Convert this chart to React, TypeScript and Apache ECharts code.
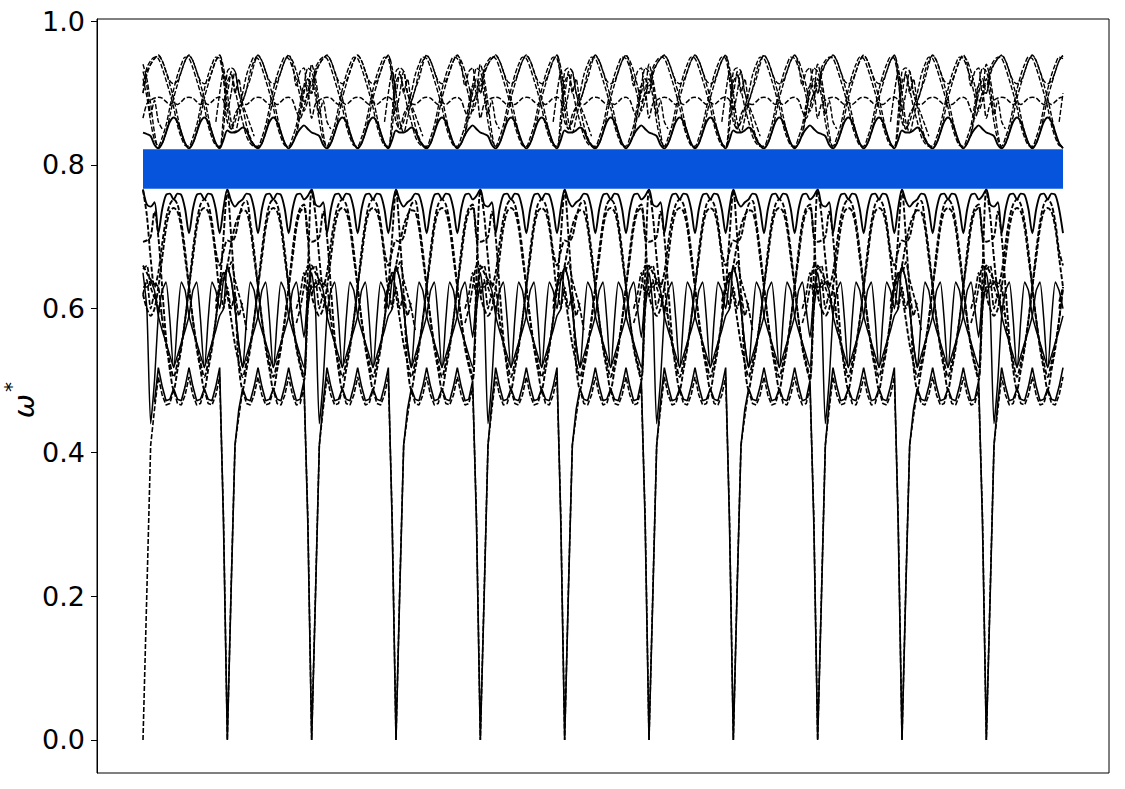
import React, { useEffect, useRef } from "react";
import * as echarts from "echarts";

// The path repeats every two segments, so one A+B pair of each branch is read off
// the picture (22 samples per segment) and laid end to end along the path.
const SEGMENTS = 11;
const SAMPLES_PER_SEGMENT = 22;
const LAST_INDEX = 240;
const Y_TICKS = [0, 0.2, 0.4, 0.6, 0.8, 1.0];
const BAND_LOW = 0.767;
const BAND_HIGH = 0.8217;
const _ = null;

const U1_A = [.845,.843,.84,.828, .823,.83,.845,.86, .866,.86,.845,.83, .823,.83,.845,.86, .866,.86,.845,.83, .823,.835];
const U1_B = [.848,.845,.845,.848, .852,.848,.835,.827, .823,.83,.845,.86, .866,.86,.845,.83, .823,.83,.842,.85, .855,.85];
const U2_A = [.865,.885,.89,.893, .894,.893,.888,.884, .887,.884,.888,.893, .894,.893,.888,.884, .887,.884,.888,.893, .894,.89];
const U2_B = [.86,.85,.87,.88, .885,.884,.888,.893, .894,.893,.888,.884, .887,.884,.888,.893, .894,.89,.875,.865, .88,.90];
const U3_A = [.90,.93,.94,.948, .953,.945,.93,.917, .913,.917,.93,.945, .953,.945,.93,.917, .913,.917,.93,.945, .953,.92];
const U3_B = [.875,.90,.93,.90, .89,.905,.92,.94, .953,.945,.93,.917, .913,.917,.93,.945, .953,.94,.91,.93, .935,.90];
const U4_A = [.90,.925,.94,.948, .952,.945,.93,.912, .893,.868,.845,.83, .824,.83,.845,.868, .893,.912,.93,.945, .952,.935];
const U4_B = [.90,.86,.845,.865, .888,.905,.93,.945, .952,.945,.93,.912, .893,.868,.845,.83, .824,.83,.845,.875, .90,.92];
const U5_A = [.94,.92,.885,.845, .824,.83,.845,.868, .893,.912,.93,.945, .952,.945,.93,.912, .893,.868,.845,.83, .824,.87];
const U5_B = [.93,.935,.93,.90, .88,.855,.838,.828, .824,.83,.845,.868, .893,.912,.93,.945, .952,.945,.93,.91, .888,.90];
const U6_A = [.91,.935,.945,.95, .948,.935,.918,.90, .88,.855,.838,.827, .826,.838,.855,.88, .905,.925,.94,.95, .948,.92];
const U6_B = [.88,.85,.86,.88, .90,.925,.94,.95, .948,.935,.918,.90, .88,.855,.838,.827, .826,.838,.855,.885, .91,.91];
const U7_A = [.92,.895,.86,.835, .826,.838,.855,.88, .905,.925,.94,.95, .948,.935,.918,.90, .88,.855,.838,.827, .826,.85];
const U7_B = [.915,.925,.905,.88, .86,.84,.83,.826, .826,.838,.855,.88, .905,.925,.94,.95, .948,.935,.918,.895, .875,.89];
const C3_A = [.93,.91,.87,.89,.86,.85, _,_,_,_,_,_,_,_,_,_,_,_,_, .86,.90,.93];
const C3_B = [.90,.93,.90,.92,.885,.87,.855,.84, _,_,_,_,_,_,_,_,_,_, .84,.87,.91,.935];
const T_A = [.766,.745,.742,.748, .705,.738,.758,.76, .752,.76,.758,.738, .705,.738,.758,.76, .752,.76,.758,.738, .705,.74];
const T_B = [.766,.75,.742,.748, .752,.76,.758,.738, .705,.738,.758,.76, .752,.76,.758,.738, .705,.738,.758,.76, .752,.757];
const M1_A = [.62,.60,.59,.60, .63,.67,.712,.735, .74,.735,.712,.67, .63,.585,.55,.525, .505,.525,.55,.585, .63,.64];
const M1_B = [.66,.69,.715,.73, .737,.735,.712,.67, .63,.585,.55,.525, .505,.525,.55,.585, .63,.67,.712,.735, .74,.70];
const M2_A = [.66,.65,.64,.635, .63,.585,.55,.525, .505,.525,.55,.585, .63,.67,.712,.735, .74,.735,.712,.67, .63,.65];
const M2_B = [.62,.585,.55,.525, .505,.525,.55,.585, .63,.67,.712,.735, .74,.735,.712,.67, .63,.585,.55,.525, .505,.60];
const M3_A = [.693,.695,.70,.735, .70,.63,.56,.515, .487,.515,.545,.585, .63,.68,.72,.745, .752,.745,.72,.68, .66,.68];
const M3_B = [.695,.693,.70,.725, .745,.75,.72,.68, .63,.585,.545,.515, .487,.515,.545,.585, .63,.68,.72,.74, .745,.70];
const M4_A = [.765,.73,.67,.63, .65,.69,.725,.745, .752,.745,.72,.68, .63,.585,.545,.515, .487,.515,.545,.585, .63,.70];
const M4_B = [.765,.70,.62,.52, .487,.515,.545,.585, .63,.68,.72,.745, .752,.745,.72,.68, .63,.585,.545,.52, .50,.65];
const C1_A = [.655,.66,.63,.615,.60,.59, _,_,_,_,_,_,_,_,_,_,_,_,_, .60,.63,.65];
const C1_B = [.65,.665,.64,.62,.60,.57, _,_,_,_,_,_,_,_,_,_,_,_, .58,.60,.63,.66];
const C4_A = [.62,.64,.60,.62,.60, _,_,_,_,_,_,_,_,_,_,_,_,_,_, .61,.63,.60];
const C4_B = [.63,.60,.62,.59,.61, _,_,_,_,_,_,_,_,_,_,_,_,_, .60,.62,.65,.62];
const S1_A = [.63,.63,.637,.625, .59,.57,.553,.535, .518,.585,.637,.625, .59,.57,.553,.535, .518,.585,.637,.625, .60,.64];
const S1_B = [.657,.64,.60,.55, .518,.585,.637,.625, .59,.57,.553,.535, .518,.585,.637,.625, .59,.57,.553,.535, .518,.60];
const S2_A = [.65,.60,.44,.50, .59,.625,.637,.585, .518,.535,.553,.57, .59,.625,.637,.585, .518,.535,.553,.57, .59,.60];
const S2_B = [.66,.64,.60,.55, .518,.535,.553,.57, .59,.625,.637,.585, .518,.535,.553,.57, .59,.625,.637,.60, .56,.62];
const L1_A = [0,.20,.41,.47, .518,.492,.472,.474, .489,.474,.472,.492, .518,.492,.472,.474, .489,.474,.472,.492, .518,.30];
const L1_B = [0,.21,.41,.46, .489,.474,.472,.492, .518,.492,.472,.474, .489,.474,.472,.492, .518,.492,.472,.474, .50,.30];
const L2_A = [0,.205,.41,.46, .505,.48,.466,.468, .487,.468,.466,.48, .505,.48,.466,.468, .487,.468,.466,.48, .505,.31];
const L2_B = [0,.215,.41,.45, .487,.468,.466,.48, .505,.48,.466,.468, .487,.468,.466,.48, .505,.48,.466,.468, .49,.31];

type Row = [(number | null)[], (number | null)[], number, number, number];
const SOLID: Row[] = [
  [U1_A, U1_B, 0, 0.3, 1.9], [T_A, T_B, 0, 0.3, 1.9], [S1_A, S1_B, 0, 0.2, 1.5], [S2_A, S2_B, 0, 0.2, 1.5], [L1_A, L1_B, 3, 0, 1.6],
];
const DASHED: Row[] = [
  [U2_A, U2_B, 0, 0.3, 1.5], [U3_A, U3_B, 0, 0.3, 1.4], [U4_A, U4_B, 0, 0.3, 1.4], [U5_A, U5_B, 0, 0.3, 1.4], [U6_A, U6_B, 0, 0.3, 1.4], [U7_A, U7_B, 0, 0.3, 1.4],
  [C3_A, C3_B, 0, 0.2, 1.4],
  [M1_A, M1_B, 0, 0.3, 1.9], [M2_A, M2_B, 0, 0.3, 1.9], [M3_A, M3_B, 0, 0.3, 1.9], [M4_A, M4_B, 0, 0.3, 1.9], [C1_A, C1_B, 0, 0.2, 1.7], [C4_A, C4_B, 0, 0.2, 1.7], [L2_A, L2_B, 0, 0, 1.6],
];

function lay(a: (number | null)[], b: (number | null)[], skip: number) {
  const pts: (number | null)[][] = [];
  for (let s = 0; s < SEGMENTS; s++) {
    const seg = s % 2 === 0 ? a : b;
    seg.forEach((v, i) => {
      const x = s * SAMPLES_PER_SEGMENT + i;
      if (x <= LAST_INDEX) pts.push([x, x < skip ? null : v]);
    });
  }
  return pts;
}

function lineSeries([a, b, skip, smooth, width]: Row, dashed: boolean) {
  return {
    type: "line",
    data: lay(a, b, skip),
    showSymbol: false,
    symbol: "none",
    smooth,
    z: 3,
    lineStyle: dashed
      ? { color: "#000", width, type: [5, 2] }
      : { color: "#000", width, type: "solid" },
  };
}

export default function App() {
  const ref = useRef<HTMLDivElement>(null);
  useEffect(() => {
    const chart = echarts.init(ref.current!, null, { renderer: "svg" });
    chart.setOption({
      animation: false,
      backgroundColor: "#fff",
      grid: { left: 97, right: 16, top: 19, bottom: 16, show: true, borderColor: "#000", borderWidth: 1, backgroundColor: "transparent" },
      xAxis: {
        type: "value", min: -12, max: 252,
        axisLine: { show: false }, axisTick: { show: false }, axisLabel: { show: false }, splitLine: { show: false },
      },
      yAxis: {
        type: "value", min: -0.046, max: 1.003,
        axisLine: { show: true, onZero: false, lineStyle: { color: "#000", width: 1 } },
        axisTick: { show: true, length: 6, customValues: Y_TICKS, lineStyle: { color: "#000", width: 1 } },
        axisLabel: {
          show: true, customValues: Y_TICKS, color: "#000", fontSize: 27, margin: 12,
          fontFamily: "DejaVu Sans", formatter: (v: number) => v.toFixed(1),
        },
        splitLine: { show: false },
      },
      graphic: [
        { type: "text", x: 24, y: 406, rotation: Math.PI / 2, style: { text: "ω", fontFamily: "DejaVu Sans", fontStyle: "italic", fontSize: 29, fill: "#000", textAlign: "center", textVerticalAlign: "middle" } },
        { type: "text", x: 11, y: 387, rotation: Math.PI / 2, style: { text: "*", fontFamily: "DejaVu Sans", fontSize: 20, fill: "#000", textAlign: "center", textVerticalAlign: "middle" } },
      ],
      series: [
        ...SOLID.map((r) => lineSeries(r, false)),
        ...DASHED.map((r) => lineSeries(r, true)),
        {
          type: "line", data: [], z: 5,
          markArea: {
            silent: true, z: 5,
            itemStyle: { color: "#0654dc", opacity: 1 },
            data: [[{ xAxis: 0, yAxis: BAND_LOW }, { xAxis: LAST_INDEX, yAxis: BAND_HIGH }]],
          },
        },
      ],
    });
    return () => chart.dispose();
  }, []);
  return <div ref={ref} style={{ position: "absolute", left: 0, top: 0, width: 1125, height: 789 }} />;
}
